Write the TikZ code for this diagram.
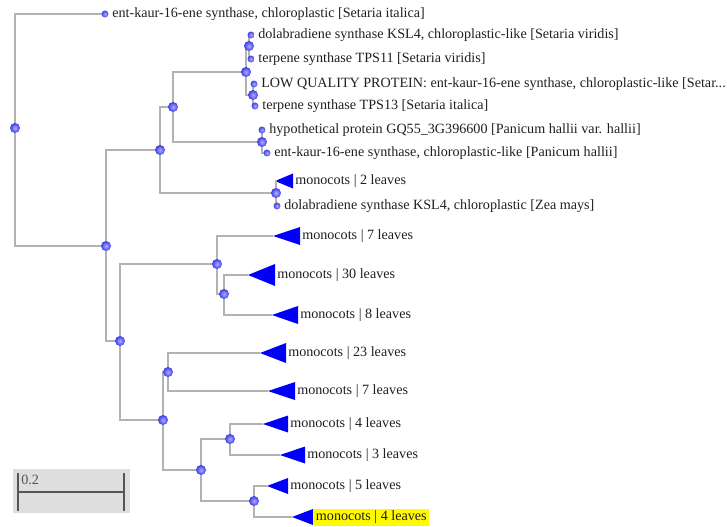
\documentclass[tikz,border=0pt]{standalone}
\usepackage{fontspec}
\setmainfont{Liberation Serif}
\usetikzlibrary{positioning}
\definecolor{treegray}{RGB}{178,178,178}
\definecolor{dotlight}{RGB}{175,175,255}
\definecolor{dotblue}{RGB}{60,60,235}
\definecolor{cladeblue}{RGB}{0,0,250}
\definecolor{hlyellow}{RGB}{255,250,0}
\definecolor{barbg}{RGB}{222,222,222}
\definecolor{bardark}{RGB}{85,85,85}
\tikzset{
  branch/.style={draw=treegray, line width=1.4pt},
  dotshade/.style={circle, inner sep=0pt, shading=radial, inner color=dotlight, outer color=dotblue},
  leafdot/.style={dotshade, minimum size=5.2pt},
  innerdot/.style={dotshade, minimum size=7.5pt},
  lbl/.style={inner sep=0pt, font=\fontsize{10.6pt}{12pt}\selectfont, text=black!88},
}
% collapsed clade: name, x, y, width, height
\newcommand{\collapsed}[5]{%
  \coordinate (#1) at (#2,#3);
  \fill[cladeblue] (#1) -- ++(#4,-#5/2) -- ++(0,#5) -- cycle;
  \coordinate (#1e) at (#2+#4,#3);}
\begin{document}
\begin{tikzpicture}[x=0.75pt,y=-0.75pt]
\useasboundingbox (0,0) rectangle (727,527);

% internal nodes
\coordinate (root) at (15,128);
\coordinate (nA) at (106,246);\coordinate (nB) at (160,150);\coordinate (nD) at (173,107);
\coordinate (nF) at (246,72);\coordinate (nF1) at (249,46);\coordinate (nF2) at (253,95);
\coordinate (nG) at (262,142);\coordinate (nE) at (276,193);
\coordinate (nC) at (120,341);\coordinate (nH) at (217,264);\coordinate (nJ) at (224,294);
\coordinate (nI) at (163,420);\coordinate (nK) at (168,372);\coordinate (nM) at (201,470);
\coordinate (nN) at (230,439);\coordinate (nP) at (254,501);

% leaves
\coordinate (lf1) at (105,14);\coordinate (lf2) at (251,35);\coordinate (lf3) at (251,59);
\coordinate (lf4) at (254,84);\coordinate (lf5) at (255,106);\coordinate (lf6) at (262,130);
\coordinate (lf7) at (267,153);\coordinate (lf8) at (277,206);

% collapsed clades
\collapsed{cl1}{275}{181}{18}{15}
\collapsed{cl2}{273}{236}{27}{18}
\collapsed{cl3}{248}{275}{27}{22}
\collapsed{cl4}{272}{315}{26}{18}
\collapsed{cl5}{260}{353}{26}{20}
\collapsed{cl6}{268}{391}{27}{18}
\collapsed{cl7}{263}{424}{25}{17}
\collapsed{cl8}{280}{455}{25}{17}
\collapsed{cl9}{267}{486}{21}{16}
\collapsed{cl10}{292}{517}{21}{16}

% branches
\foreach \p/\c in {root/lf1, root/nA, nA/nB, nA/nC, nB/nD, nB/nE, nD/nF, nD/nG,
  nF/nF1, nF/nF2, nF1/lf2, nF1/lf3, nF2/lf4, nF2/lf5, nG/lf6, nG/lf7, nE/cl1, nE/lf8,
  nC/nH, nC/nI, nH/cl2, nH/nJ, nJ/cl3, nJ/cl4, nI/nK, nI/nM, nK/cl5, nK/cl6,
  nM/nN, nM/nP, nN/cl7, nN/cl8, nP/cl9, nP/cl10}
  \draw[branch] (\p) |- (\c);

% dots
\foreach \n in {root,nA,nB,nD,nF,nF1,nF2,nG,nE,nC,nH,nJ,nI,nK,nM,nN,nP}
  \node[innerdot] at (\n) {};
\foreach \n in {lf1,lf2,lf3,lf4,lf5,lf6,lf7,lf8}
  \node[leafdot] (\n d) at (\n) {};

% leaf labels
\node[lbl, right=2.5pt of lf1d] {ent-kaur-16-ene synthase, chloroplastic [Setaria italica]};
\node[lbl, right=2.5pt of lf2d] {dolabradiene synthase KSL4, chloroplastic-like [Setaria viridis]};
\node[lbl, right=2.5pt of lf3d] {terpene synthase TPS11 [Setaria viridis]};
\node[lbl, right=2.5pt of lf4d] {LOW QUALITY PROTEIN: ent-kaur-16-ene synthase, chloroplastic-like [Setar...};
\node[lbl, right=2.5pt of lf5d] {terpene synthase TPS13 [Setaria italica]};
\node[lbl, right=2.5pt of lf6d] {hypothetical protein GQ55\_3G396600 [Panicum hallii var. hallii]};
\node[lbl, right=2.5pt of lf7d] {ent-kaur-16-ene synthase, chloroplastic-like [Panicum hallii]};
\node[lbl, right=2.5pt of lf8d] {dolabradiene synthase KSL4, chloroplastic [Zea mays]};

% clade labels
\node[lbl, right=1.5pt of cl1e] {monocots | 2 leaves};
\node[lbl, right=1.5pt of cl2e] {monocots | 7 leaves};
\node[lbl, right=1.5pt of cl3e] {monocots | 30 leaves};
\node[lbl, right=1.5pt of cl4e] {monocots | 8 leaves};
\node[lbl, right=1.5pt of cl5e] {monocots | 23 leaves};
\node[lbl, right=1.5pt of cl6e] {monocots | 7 leaves};
\node[lbl, right=1.5pt of cl7e] {monocots | 4 leaves};
\node[lbl, right=1.5pt of cl8e] {monocots | 3 leaves};
\node[lbl, right=1.5pt of cl9e] {monocots | 5 leaves};
\node[lbl, fill=hlyellow, inner xsep=1.5pt, minimum height=12.75pt, right=0.5pt of cl10e] {monocots | 4 leaves};

% scale bar
\fill[barbg] (13,469) rectangle (130,513);
\coordinate (sbl) at (18,492);\coordinate (sbr) at (124,492);
\draw[bardark, line width=1.5pt] (sbl) -- (sbr);
\draw[bardark, line width=1.2pt] ([yshift=-14]sbl) -- ([yshift=14]sbl);
\draw[bardark, line width=1.2pt] ([yshift=-14]sbr) -- ([yshift=14]sbr);
\node[lbl, text=bardark, anchor=west] at (21,480) {0.2};
\end{tikzpicture}
\end{document}
